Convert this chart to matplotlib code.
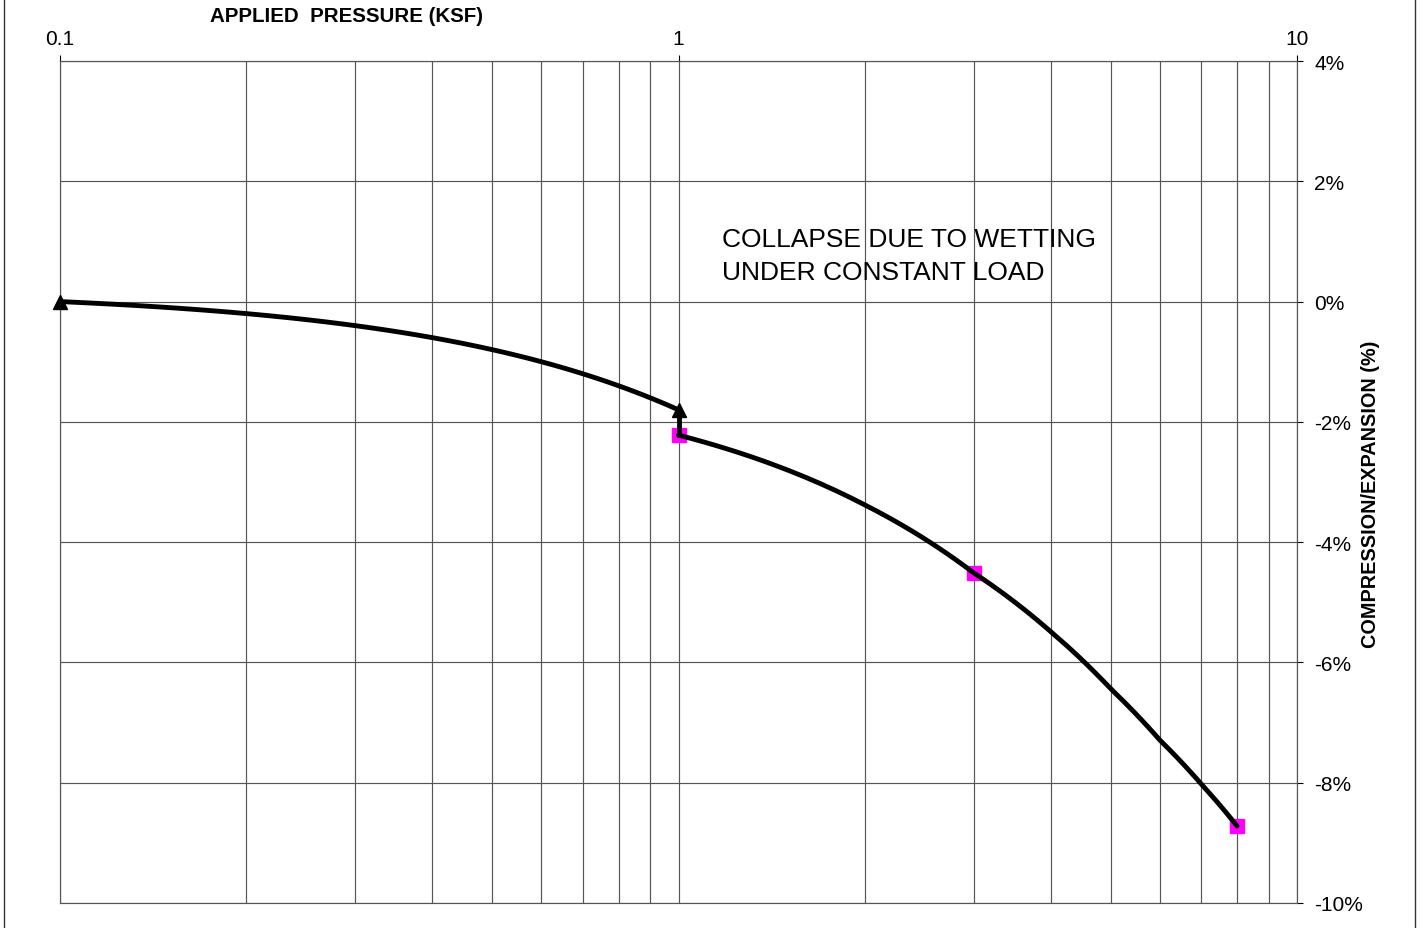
import numpy as np
import matplotlib
matplotlib.use("Agg")
import matplotlib.pyplot as plt
from matplotlib.lines import Line2D
from matplotlib.path import Path
from matplotlib.ticker import FixedLocator, NullFormatter

plt.rcParams["font.family"] = ["Liberation Sans", "DejaVu Sans"]

# loading before wetting (pressure in ksf, strain in %)
load_x = [0.1, 1.0]
load_y = [0.0, -1.8]

# collapse on wetting at constant load
collapse_x = [1.0, 1.0]
collapse_y = [-1.8, -2.22]

# loading after wetting: trace, and the measured points on it
wet_x = [1.0, 2.0, 3.0, 4.0, 5.0, 6.0, 7.0, 8.0]
wet_y = [-2.22, -3.38, -4.51, -5.49, -6.44, -7.29, -8.02, -8.72]
wet_pts_x = [1.0, 3.0, 8.0]
wet_pts_y = [-2.22, -4.51, -8.72]

x_ticks = [0.1, 1, 10]
x_tick_labels = ["0.1", "1", "10"]
y_ticks = [-10, -8, -6, -4, -2, 0, 2, 4]


def data_line(xs, ys, steps=80):
    # straight segments in data units, so they bend on the log axis
    p = Path(np.column_stack([xs, ys])).interpolated(steps)
    return p.vertices[:, 0], p.vertices[:, 1]


W, H = 1421, 929
fig = plt.figure(figsize=(W / 100, H / 100), dpi=100)
ax = fig.add_axes([60 / W, 1 - 904 / H, (1297 - 60) / W, (904 - 62) / H])

grid_c = "#555555"
ax.set_xscale("log")
ax.set_xlim(0.1, 10)
ax.set_ylim(-10, 4)

ax.xaxis.tick_top()
ax.yaxis.tick_right()
ax.set_xticks(x_ticks)
ax.set_xticklabels(x_tick_labels)
minor = [m * d for d in (0.1, 1) for m in range(2, 10)]
ax.xaxis.set_minor_locator(FixedLocator(minor))
ax.xaxis.set_minor_formatter(NullFormatter())
ax.set_yticks(y_ticks)
ax.set_yticklabels([f"{v}%" for v in y_ticks])

ax.tick_params(axis="x", which="major", direction="out", length=4.5, width=0.8,
               color="black", labelsize=15, pad=5)
ax.tick_params(axis="x", which="minor", length=0)
ax.tick_params(axis="y", direction="out", length=4.5, width=0.8,
               color="black", labelsize=15, pad=8)

ax.grid(True, axis="x", which="both", color=grid_c, lw=0.85)
ax.grid(True, axis="y", which="major", color=grid_c, lw=0.85)
for s in ax.spines.values():
    s.set_color(grid_c)
    s.set_linewidth(0.85)
ax.set_axisbelow(True)

ax.plot(wet_pts_x, wet_pts_y, ls="none", marker="s", ms=10.5,
        mfc="#ff00ff", mec="#ff00ff", zorder=3)
lx, ly = data_line(load_x, load_y)
ax.plot(lx, ly, color="black", lw=3.5, solid_capstyle="round",
        solid_joinstyle="round", zorder=4)
ax.plot(collapse_x, collapse_y, color="black", lw=3.5, zorder=4)
wx, wy = data_line(wet_x, wet_y, steps=20)
ax.plot(wx, wy, color="black", lw=3.5, solid_capstyle="round",
        solid_joinstyle="round", zorder=4)
ax.plot(load_x, load_y, ls="none", marker="^", ms=10, color="black",
        zorder=5, clip_on=False)

ax.text(1.176, 1.24, "COLLAPSE DUE TO WETTING\nUNDER CONSTANT LOAD",
        fontsize=19, va="top", ha="left", linespacing=1.45)

fig.text(347 / W, 1 - 17 / H, "APPLIED  PRESSURE (KSF)", fontsize=14.8,
         fontweight="bold", ha="center", va="center")
fig.text(1370 / W, 1 - 494 / H, "COMPRESSION/EXPANSION (%)", fontsize=14.3,
         fontweight="bold", ha="center", va="center", rotation=90)

# page border
for xb in (3.5 / W, 1414.5 / W):
    fig.add_artist(Line2D([xb, xb], [0, 1], transform=fig.transFigure,
                          color="#333333", lw=1))

fig.savefig("out.png", dpi=100)
